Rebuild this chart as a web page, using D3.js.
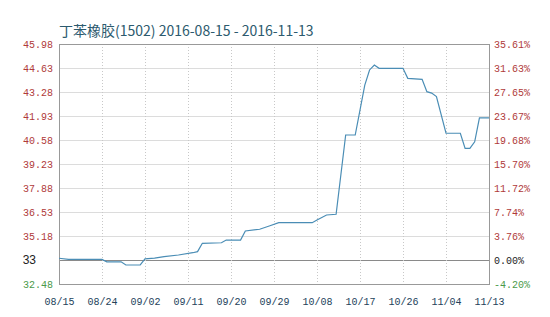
<!DOCTYPE html>
<html>
<head>
<meta charset="utf-8">
<title>丁苯橡胶(1502)</title>
<script src="https://cdn.jsdelivr.net/npm/d3@7"></script>
<style>
	body { margin: 0; background: #fff; }
	.axis path, .axis line { display: none; }
	.axis text { font-family: "Liberation Mono", monospace; font-size: 10px; }
	.title { font-family: "Noto Sans CJK SC", sans-serif; font-size: 14px; fill: #2c5a6e; }
</style>
</head>
<body>
<script>
// data
var dates = ["2016-08-15","2016-08-17","2016-08-24","2016-08-25","2016-08-28","2016-08-29",
	"2016-09-01","2016-09-02","2016-09-04","2016-09-06","2016-09-09","2016-09-12","2016-09-13",
	"2016-09-14","2016-09-18","2016-09-19","2016-09-22","2016-09-23","2016-09-26","2016-09-28",
	"2016-09-30","2016-10-07","2016-10-08","2016-10-10","2016-10-12","2016-10-14","2016-10-16",
	"2016-10-18","2016-10-19","2016-10-20","2016-10-21","2016-10-26","2016-10-27","2016-10-30",
	"2016-10-31","2016-11-01","2016-11-02","2016-11-04","2016-11-07","2016-11-08","2016-11-09",
	"2016-11-10","2016-11-11","2016-11-13"];
var prices = [33.93,33.86,33.86,33.73,33.73,33.55,
	33.55,33.89,33.94,34.02,34.11,34.24,34.30,
	34.77,34.80,34.95,34.95,35.46,35.56,35.74,
	35.93,35.93,36.08,36.36,36.40,40.86,40.86,
	43.67,44.52,44.80,44.61,44.61,44.05,43.99,
	43.30,43.22,43.02,40.96,40.96,40.11,40.11,
	40.48,41.83,41.83];

var xTicks = ["2016-08-15","2016-08-24","2016-09-02","2016-09-11","2016-09-20","2016-09-29",
	"2016-10-08","2016-10-17","2016-10-26","2016-11-04","2016-11-13"];
var leftTicks = [32.48,33.83,35.18,36.53,37.88,39.23,40.58,41.93,43.28,44.63,45.98];
var leftLabels = ["32.48","33","35.18","36.53","37.88","39.23","40.58","41.93","43.28","44.63","45.98"];
var rightLabels = ["-4.20%","0.00%","3.76%","7.74%","11.72%","15.70%","19.68%","23.67%","27.65%","31.63%","35.61%"];

var width = 550, height = 317,
	padL = 59, padR = 489, padT = 44, padB = 284;
var parse = d3.timeParse("%Y-%m-%d");

var svg = d3.select("body").append("svg")
	.attr("width", width)
	.attr("height", height);

var xScale = d3.scaleTime()
	.domain([parse(xTicks[0]), parse(xTicks[xTicks.length - 1])])
	.range([padL, padR]);
var yScale = d3.scaleLinear()
	.domain([leftTicks[0], leftTicks[leftTicks.length - 1]])
	.range([padB, padT]);

function labelColor(i) {
	if (i == 0) return "#4a9a4a";
	if (i == 1) return "#222";
	return "#b03a3a";
}

// horizontal grid
svg.append("g").selectAll("line")
	.data(leftTicks)
	.enter()
	.append("line")
	.attr("x1", padL).attr("x2", padR)
	.attr("y1", function (d) { return Math.round(yScale(d)) + 0.5; })
	.attr("y2", function (d) { return Math.round(yScale(d)) + 0.5; })
	.attr("stroke", function (d, i) { return i == 1 ? "#8a8a8a" : "#dcdcdc"; })
	.attr("stroke-width", 1);

// vertical grid, dotted
svg.append("g").selectAll("line")
	.data(xTicks.slice(1, -1))
	.enter()
	.append("line")
	.attr("x1", function (d) { return Math.round(xScale(parse(d))) + 0.5; })
	.attr("x2", function (d) { return Math.round(xScale(parse(d))) + 0.5; })
	.attr("y1", padT).attr("y2", padB)
	.attr("stroke", "#c8c8c8")
	.attr("stroke-dasharray", "1,2");

// frame
svg.append("rect")
	.attr("x", padL + 0.5).attr("y", padT + 0.5)
	.attr("width", padR - padL).attr("height", padB - padT)
	.attr("fill", "none")
	.attr("stroke", "#999");

// price line
var line = d3.line()
	.x(function (d, i) { return xScale(parse(dates[i])); })
	.y(function (d) { return yScale(d); });
svg.append("path")
	.datum(prices)
	.attr("d", line)
	.attr("fill", "none")
	.attr("stroke", "#4a8db5")
	.attr("stroke-width", 1.2);

// axes
var yAxisL = d3.axisLeft(yScale)
	.tickValues(leftTicks)
	.tickSize(0)
	.tickPadding(6)
	.tickFormat(function (d, i) { return leftLabels[i]; });
var gL = svg.append("g")
	.attr("class", "axis")
	.attr("transform", "translate(" + padL + ",0)")
	.call(yAxisL);
gL.selectAll("text")
	.attr("fill", function (d, i) { return labelColor(i); })
	.filter(function (d, i) { return i == 1; })
	.style("font-family", "'Liberation Sans', sans-serif")
	.style("font-size", "12px")
	.attr("dx", -17);

var yAxisR = d3.axisRight(yScale)
	.tickValues(leftTicks)
	.tickSize(0)
	.tickPadding(5)
	.tickFormat(function (d, i) { return rightLabels[i]; });
svg.append("g")
	.attr("class", "axis")
	.attr("transform", "translate(" + padR + ",0)")
	.call(yAxisR)
	.selectAll("text")
	.attr("fill", function (d, i) { return labelColor(i); });

var xAxis = d3.axisBottom(xScale)
	.tickValues(xTicks.map(parse))
	.tickSize(0)
	.tickPadding(14)
	.tickFormat(d3.timeFormat("%m/%d"));
svg.append("g")
	.attr("class", "axis")
	.attr("transform", "translate(0," + padB + ")")
	.call(xAxis)
	.selectAll("text")
	.attr("fill", "#23425a");

svg.append("text")
	.attr("class", "title")
	.attr("x", padL)
	.attr("y", 36)
	.text("丁苯橡胶(1502) 2016-08-15 - 2016-11-13");
</script>
</body>
</html>
